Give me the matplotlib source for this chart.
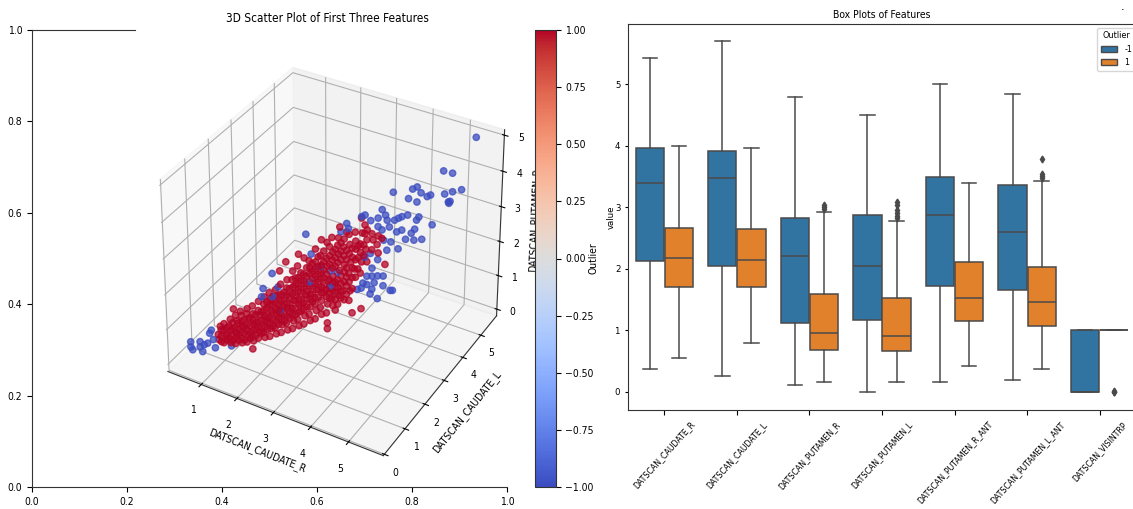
import matplotlib
matplotlib.use("Agg")
import matplotlib.pyplot as plt
import numpy as np
from matplotlib.cm import ScalarMappable
from matplotlib.colors import Normalize
from matplotlib.patches import Patch

plt.rcParams["font.family"] = "DejaVu Sans"
plt.rcParams["font.stretch"] = "condensed"
plt.rcParams["font.size"] = 7.5
plt.rcParams["axes.edgecolor"] = "#333333"

outlier_pts = [
    (5.4, 5.4, 5.05), (4.84, 4.84, 4.25), (5.0, 5.0, 4.15), (5.17, 5.17, 3.65), (5.01, 5.01, 3.63), (4.87, 4.87, 3.6),
    (4.62, 4.62, 3.63), (4.56, 4.56, 3.6), (4.45, 4.45, 3.73), (4.38, 4.38, 3.91), (4.3, 4.3, 3.87), (3.96, 3.96, 3.86),
    (4.23, 4.23, 3.62), (4.38, 4.38, 3.49), (4.94, 4.94, 3.36), (4.97, 4.97, 3.37), (4.95, 4.95, 3.32), (4.66, 4.66, 2.78),
    (4.22, 4.22, 3.16), (4.12, 4.12, 3.14), (4.06, 4.06, 3.11), (3.99, 3.99, 3.07), (4.42, 4.42, 3.06), (4.38, 4.38, 2.98),
    (3.83, 3.83, 3.25), (3.77, 3.77, 3.42), (3.86, 3.86, 3.1), (3.9, 3.9, 2.9), (3.7, 3.7, 3.2), (3.57, 3.57, 3.16),
    (3.41, 3.41, 3.31), (3.47, 3.47, 3.34), (3.7, 3.7, 2.96), (3.77, 3.77, 2.85), (4.03, 4.03, 2.73), (4.12, 4.12, 2.76),
    (4.35, 4.35, 2.73), (4.29, 4.29, 2.63), (4.19, 4.19, 2.48), (4.34, 4.34, 2.42), (4.48, 4.48, 2.41), (4.06, 4.06, 2.24),
    (3.93, 3.93, 2.47), (3.8, 3.8, 2.55), (3.86, 3.86, 2.25), (3.57, 3.57, 2.23), (3.47, 3.47, 2.15), (3.15, 3.15, 3.18),
    (3.18, 3.18, 3.03), (3.05, 3.05, 2.97), (2.44, 2.44, 3.05), (3.7, 3.7, 2.02), (3.6, 3.6, 1.8), (3.7, 3.7, 1.55),
    (3.6, 3.6, 1.57), (3.51, 3.51, 1.59), (3.8, 3.8, 1.52), (3.64, 3.64, 1.37), (3.51, 3.51, 1.35), (3.8, 3.8, 1.24),
    (3.6, 3.6, 1.19), (3.41, 3.41, 1.27), (3.34, 3.34, 1.25), (3.93, 3.93, 1.07), (3.97, 3.97, 1.06), (3.7, 3.7, 0.89),
    (3.57, 3.57, 1.06), (3.44, 3.44, 1.41), (2.53, 2.53, 2.47), (2.86, 2.86, 1.9), (2.99, 2.99, 1.83), (2.5, 2.5, 1.69),
    (2.69, 2.69, 2.08), (1.85, 1.85, 2.09), (1.69, 1.69, 1.7), (1.66, 1.66, 1.47), (1.85, 1.85, 1.43), (1.95, 1.95, 1.68),
    (1.98, 1.98, 1.01), (2.86, 2.86, 1.48), (0.42, 0.42, 0.5), (0.42, 0.42, 0.35), (0.45, 0.45, 0.26), (0.58, 0.58, 0.46),
    (0.65, 0.65, 0.35), (0.62, 0.62, 0.16), (0.71, 0.71, 0.38), (0.81, 0.81, 0.46), (0.84, 0.84, 0.21), (0.75, 0.75, 0.66),
    (0.58, 0.58, 0.31), (1.12, 1.12, 0.19), (0.78, 0.78, 0.74),
]

inlier_pts = [
    (1.49, 1.49, 0.0), (1.17, 1.17, 1.25), (2.09, 2.09, 2.36), (1.98, 1.98, 2.13), (2.31, 2.31, 2.52), (2.71, 2.71, 2.83),
    (3.03, 3.03, 3.11), (3.15, 3.15, 2.94), (3.83, 3.83, 1.85), (3.41, 3.41, 0.67), (3.25, 3.25, 0.59), (2.95, 2.95, 0.75),
    (2.81, 2.81, 0.41), (2.81, 2.81, 0.24), (3.47, 3.47, 2.82), (3.77, 3.77, 2.61), (3.41, 3.41, 3.27), (3.47, 3.47, 3.06),
    (0.9, 0.92, 0.42), (0.91, 0.88, 0.6), (0.93, 0.95, 0.8),
    (1.0, 0.98, 0.33), (1.02, 1.04, 0.5), (0.99, 1.0, 0.68), (1.01, 0.99, 0.88),
    (1.1, 1.12, 0.28), (1.09, 1.08, 0.44), (1.11, 1.13, 0.62), (1.1, 1.07, 0.8), (1.12, 1.1, 0.98),
    (1.2, 1.18, 0.25), (1.19, 1.22, 0.4), (1.21, 1.2, 0.56), (1.2, 1.17, 0.72), (1.22, 1.24, 0.88), (1.2, 1.21, 1.05),
    (1.3, 1.32, 0.22), (1.31, 1.28, 0.38), (1.29, 1.3, 0.54), (1.3, 1.33, 0.7), (1.32, 1.29, 0.86), (1.3, 1.31, 1.02), (1.28, 1.3, 1.14),
    (1.4, 1.38, 0.24), (1.41, 1.42, 0.42), (1.39, 1.4, 0.58), (1.4, 1.37, 0.74), (1.42, 1.43, 0.9), (1.4, 1.39, 1.06), (1.41, 1.4, 1.2),
    (1.5, 1.52, 0.22), (1.49, 1.48, 0.38), (1.51, 1.5, 0.54), (1.5, 1.53, 0.7), (1.52, 1.49, 0.86), (1.5, 1.5, 1.02), (1.49, 1.51, 1.24),
    (1.6, 1.58, 0.3), (1.61, 1.62, 0.46), (1.59, 1.6, 0.62), (1.6, 1.57, 0.78), (1.62, 1.63, 0.94), (1.6, 1.59, 1.1), (1.61, 1.6, 1.36),
    (1.7, 1.72, 0.27), (1.69, 1.68, 0.44), (1.71, 1.7, 0.6), (1.7, 1.73, 0.76), (1.72, 1.69, 0.92), (1.7, 1.7, 1.08), (1.69, 1.71, 1.24), (1.71, 1.7, 1.46),
    (1.8, 1.78, 0.3), (1.81, 1.82, 0.5), (1.79, 1.8, 0.68), (1.8, 1.77, 0.85), (1.82, 1.83, 1.02), (1.8, 1.79, 1.2), (1.81, 1.8, 1.36), (1.79, 1.8, 1.55),
    (1.9, 1.92, 0.32), (1.89, 1.88, 0.52), (1.91, 1.9, 0.7), (1.9, 1.93, 0.88), (1.92, 1.89, 1.06), (1.9, 1.9, 1.24), (1.89, 1.91, 1.42), (1.91, 1.9, 1.62),
    (2.0, 1.98, 0.36), (2.01, 2.02, 0.56), (1.99, 2.0, 0.74), (2.0, 1.97, 0.92), (2.02, 2.03, 1.1), (2.0, 1.99, 1.28), (2.01, 2.0, 1.46), (1.99, 2.0, 1.74),
    (2.1, 2.12, 0.38), (2.09, 2.08, 0.6), (2.11, 2.1, 0.8), (2.1, 2.13, 1.0), (2.12, 2.09, 1.2), (2.1, 2.1, 1.4), (2.09, 2.11, 1.6), (2.11, 2.1, 1.85),
    (2.2, 2.18, 0.42), (2.21, 2.22, 0.62), (2.19, 2.2, 0.82), (2.2, 2.17, 1.02), (2.22, 2.23, 1.22), (2.2, 2.19, 1.42), (2.21, 2.2, 1.62), (2.19, 2.2, 1.82), (2.2, 2.22, 2.06),
    (2.3, 2.32, 0.45), (2.29, 2.28, 0.66), (2.31, 2.3, 0.86), (2.3, 2.33, 1.06), (2.32, 2.29, 1.26), (2.3, 2.3, 1.46), (2.29, 2.31, 1.66), (2.31, 2.3, 1.86), (2.3, 2.28, 2.2),
    (2.4, 2.38, 0.5), (2.41, 2.42, 0.72), (2.39, 2.4, 0.92), (2.4, 2.37, 1.12), (2.42, 2.43, 1.32), (2.4, 2.39, 1.52), (2.41, 2.4, 1.72), (2.39, 2.4, 1.92), (2.4, 2.42, 2.38),
    (2.5, 2.52, 0.55), (2.49, 2.48, 0.76), (2.51, 2.5, 0.96), (2.5, 2.53, 1.16), (2.52, 2.49, 1.36), (2.5, 2.5, 1.56), (2.49, 2.51, 1.9), (2.51, 2.5, 2.1), (2.5, 2.48, 2.3),
    (2.6, 2.58, 0.6), (2.61, 2.62, 0.82), (2.59, 2.6, 1.02), (2.6, 2.57, 1.22), (2.62, 2.63, 1.42), (2.6, 2.59, 1.62), (2.61, 2.6, 1.82), (2.59, 2.6, 2.02), (2.6, 2.62, 2.22), (2.61, 2.6, 2.6),
    (2.7, 2.72, 0.68), (2.69, 2.68, 0.9), (2.71, 2.7, 1.1), (2.7, 2.73, 1.3), (2.72, 2.69, 1.5), (2.7, 2.7, 1.72), (2.69, 2.71, 1.92), (2.71, 2.7, 2.12), (2.7, 2.68, 2.4),
    (2.8, 2.78, 0.72), (2.81, 2.82, 0.96), (2.79, 2.8, 1.18), (2.8, 2.77, 1.4), (2.82, 2.83, 1.62), (2.8, 2.79, 1.84), (2.81, 2.8, 2.06), (2.79, 2.8, 2.28), (2.8, 2.82, 2.72),
    (2.9, 2.92, 0.88), (2.89, 2.88, 1.1), (2.91, 2.9, 1.32), (2.9, 2.93, 1.54), (2.92, 2.89, 1.76), (2.9, 2.9, 1.98), (2.89, 2.91, 2.2), (2.91, 2.9, 2.44), (2.9, 2.88, 2.86),
    (3.0, 2.98, 0.92), (3.01, 3.02, 1.16), (2.99, 3.0, 1.4), (3.0, 2.97, 1.64), (3.02, 3.03, 1.88), (3.0, 2.99, 2.12), (3.01, 3.0, 2.36), (2.99, 3.0, 2.6), (3.0, 3.02, 2.8),
    (3.1, 3.12, 1.0), (3.09, 3.08, 1.28), (3.11, 3.1, 1.54), (3.1, 3.13, 1.8), (3.12, 3.09, 2.04), (3.1, 3.1, 2.28), (3.09, 3.11, 2.52), (3.11, 3.1, 2.76),
    (3.2, 3.18, 0.98), (3.21, 3.22, 1.24), (3.19, 3.2, 1.5), (3.2, 3.17, 1.76), (3.22, 3.23, 2.06), (3.2, 3.19, 2.32), (3.21, 3.2, 2.58), (3.19, 3.2, 2.86),
    (3.3, 3.32, 1.6), (3.29, 3.28, 1.86), (3.31, 3.3, 2.12), (3.3, 3.33, 2.4), (3.32, 3.29, 2.66), (3.3, 3.3, 2.9),
    (3.4, 3.38, 1.72), (3.41, 3.42, 2.02), (3.39, 3.4, 2.3), (3.4, 3.37, 2.56), (3.42, 3.43, 2.84),
    (3.5, 3.52, 2.0), (3.49, 3.48, 2.38), (3.51, 3.5, 2.64), (3.5, 3.53, 2.9),
    (3.6, 3.58, 2.34), (3.61, 3.62, 2.6), (3.59, 3.6, 2.78),
    (3.7, 3.72, 2.2), (3.69, 3.68, 2.46), (3.71, 3.7, 2.7),
]

# the dense ridge of the red cloud
ridge_pts = [
    (0.95, 0.95, 0.36), (0.95, 0.95, 0.52), (0.95, 0.95, 0.7), (1.05, 1.05, 0.38), (1.05, 1.05, 0.55), (1.05, 1.05, 0.74),
    (1.15, 1.15, 0.34), (1.15, 1.15, 0.5), (1.15, 1.15, 0.68), (1.15, 1.15, 0.86), (1.25, 1.25, 0.32), (1.25, 1.25, 0.48), (1.25, 1.25, 0.64), (1.25, 1.25, 0.82),
    (1.35, 1.35, 0.3), (1.35, 1.35, 0.5), (1.35, 1.35, 0.68), (1.35, 1.35, 0.88), (1.45, 1.45, 0.32), (1.45, 1.45, 0.5), (1.45, 1.45, 0.7), (1.45, 1.45, 0.92),
    (1.55, 1.55, 0.38), (1.55, 1.55, 0.56), (1.55, 1.55, 0.76), (1.55, 1.55, 0.98), (1.65, 1.65, 0.42), (1.65, 1.65, 0.6), (1.65, 1.65, 0.8), (1.65, 1.65, 1.04),
    (1.75, 1.75, 0.5), (1.75, 1.75, 0.7), (1.75, 1.75, 0.9), (1.75, 1.75, 1.12), (1.75, 1.75, 1.3), (1.85, 1.85, 0.56), (1.85, 1.85, 0.76), (1.85, 1.85, 0.96), (1.85, 1.85, 1.18), (1.85, 1.85, 1.36),
    (1.95, 1.95, 0.6), (1.95, 1.95, 0.8), (1.95, 1.95, 1.0), (1.95, 1.95, 1.2), (1.95, 1.95, 1.42), (2.05, 2.05, 0.66), (2.05, 2.05, 0.86), (2.05, 2.05, 1.06), (2.05, 2.05, 1.28), (2.05, 2.05, 1.5),
    (2.15, 2.15, 0.72), (2.15, 2.15, 0.92), (2.15, 2.15, 1.14), (2.15, 2.15, 1.36), (2.15, 2.15, 1.58), (2.25, 2.25, 0.8), (2.25, 2.25, 1.0), (2.25, 2.25, 1.22), (2.25, 2.25, 1.44), (2.25, 2.25, 1.66),
    (2.35, 2.35, 0.88), (2.35, 2.35, 1.1), (2.35, 2.35, 1.32), (2.35, 2.35, 1.54), (2.35, 2.35, 1.76), (2.45, 2.45, 0.98), (2.45, 2.45, 1.2), (2.45, 2.45, 1.42), (2.45, 2.45, 1.64), (2.45, 2.45, 1.86),
    (2.55, 2.55, 1.1), (2.55, 2.55, 1.32), (2.55, 2.55, 1.54), (2.55, 2.55, 1.76), (2.55, 2.55, 1.98), (2.65, 2.65, 1.2), (2.65, 2.65, 1.42), (2.65, 2.65, 1.64), (2.65, 2.65, 1.86), (2.65, 2.65, 2.08),
    (2.75, 2.75, 1.3), (2.75, 2.75, 1.52), (2.75, 2.75, 1.74), (2.75, 2.75, 1.96), (2.75, 2.75, 2.2), (2.85, 2.85, 1.42), (2.85, 2.85, 1.66), (2.85, 2.85, 2.1), (2.85, 2.85, 2.34),
    (2.95, 2.95, 1.56), (2.95, 2.95, 2.02), (2.95, 2.95, 2.26), (2.95, 2.95, 2.5), (3.05, 3.05, 1.72), (3.05, 3.05, 2.18), (3.05, 3.05, 2.42), (3.05, 3.05, 2.66),
    (2.85, 2.85, 1.12), (2.85, 2.85, 1.3), (2.95, 2.95, 1.05), (2.95, 2.95, 1.24), (2.95, 2.95, 1.42), (3.05, 3.05, 1.08), (3.05, 3.05, 1.28), (3.05, 3.05, 1.5),
    (3.15, 3.15, 1.16), (3.15, 3.15, 1.4), (3.15, 3.15, 1.66), (3.15, 3.15, 1.92), (3.15, 3.15, 2.16), (3.15, 3.15, 2.42), (3.25, 3.25, 1.3), (3.25, 3.25, 1.62),
    (3.25, 3.25, 1.9), (3.25, 3.25, 2.2), (3.25, 3.25, 2.46), (3.35, 3.35, 1.84), (3.35, 3.35, 2.16), (3.35, 3.35, 2.5), (3.45, 3.45, 2.2), (3.45, 3.45, 2.5),
    (2.25, 2.25, 1.86), (2.35, 2.35, 1.98), (2.45, 2.45, 2.1), (2.55, 2.55, 2.2), (2.65, 2.65, 2.36), (2.75, 2.75, 2.5), (2.85, 2.85, 2.6),
]

box_features = [
    "DATSCAN_CAUDATE_R", "DATSCAN_CAUDATE_L", "DATSCAN_PUTAMEN_R", "DATSCAN_PUTAMEN_L",
    "DATSCAN_PUTAMEN_R_ANT", "DATSCAN_PUTAMEN_L_ANT", "DATSCAN_VISINTRP",
]
# whisker low, q1, median, q3, whisker high
neg_stats = [
    (0.37, 2.12, 3.40, 3.97, 5.42), (0.26, 2.04, 3.48, 3.92, 5.70), (0.11, 1.11, 2.20, 2.83, 4.80),
    (0.00, 1.16, 2.05, 2.87, 4.50), (0.16, 1.71, 2.87, 3.49, 5.00), (0.18, 1.66, 2.60, 3.36, 4.84),
    (0.00, 0.00, 0.00, 1.00, 1.00),
]
pos_stats = [
    (0.54, 1.70, 2.18, 2.66, 4.00), (0.79, 1.70, 2.14, 2.64, 3.97), (0.16, 0.68, 0.96, 1.58, 2.92),
    (0.16, 0.66, 0.91, 1.52, 2.78), (0.42, 1.14, 1.52, 2.11, 3.40), (0.37, 1.07, 1.45, 2.02, 3.42),
    (1.00, 1.00, 1.00, 1.00, 1.00),
]
pos_fliers = [
    [], [], [2.97, 3.0, 3.03], [2.82, 2.86, 2.9, 2.95, 3.03, 3.08], [], [3.47, 3.5, 3.54, 3.78], [0.0, 0.01, -0.01],
]

W, H = 1133, 509


def px_rect(x0, y0, x1, y1):
    return [x0 / W, 1 - y1 / H, (x1 - x0) / W, (y1 - y0) / H]


fig = plt.figure(figsize=(W / 100, H / 100), dpi=100)

# empty axes left behind the 3d one
bg = fig.add_axes(px_rect(32, 30, 507, 487))
bg.spines["right"].set_visible(False)
bg.spines["top"].set_bounds(0, 0.217)

ax3d = fig.add_axes(px_rect(160, 55, 502, 458), projection="3d")
ax3d.patch.set_alpha(0)
ax3d.set_box_aspect((4, 4, 3), zoom=1.12)
# the reference is stretched, keep the axes rectangle instead of forcing a square
ax3d.apply_aspect = lambda position=None: None
in_arr = np.array(inlier_pts + ridge_pts)
out_arr = np.array(outlier_pts)
xs = np.concatenate([out_arr[:, 0], in_arr[:, 0]])
ys = np.concatenate([out_arr[:, 1], in_arr[:, 1]])
zs = np.concatenate([out_arr[:, 2], in_arr[:, 2]])
labels = np.concatenate([-np.ones(len(out_arr)), np.ones(len(in_arr))])
norm = Normalize(-1, 1)
ax3d.scatter(xs, ys, zs, c=labels, cmap="coolwarm", norm=norm, s=21, alpha=0.75)
ax3d.set_xlim(0.05, 5.9)
ax3d.set_ylim(-0.05, 5.9)
ax3d.set_zlim(-0.2, 5.15)
ax3d.set_xticks([1, 2, 3, 4, 5])
ax3d.set_yticks([0, 1, 2, 3, 4, 5])
ax3d.set_zticks([0, 1, 2, 3, 4, 5])
ax3d.tick_params(axis="x", pad=1)
ax3d.tick_params(axis="y", pad=-1)
ax3d.tick_params(axis="z", pad=-1)
ax3d.set_xlabel("DATSCAN_CAUDATE_R", labelpad=-5)
ax3d.set_ylabel("DATSCAN_CAUDATE_L", labelpad=-5)
ax3d.set_zlabel("DATSCAN_PUTAMEN_R", labelpad=-6)
fig.text(327 / W, 1 - 19 / H, "3D Scatter Plot of First Three Features", ha="center", va="center", fontsize=8.5)

cax = fig.add_axes(px_rect(535, 30, 555.5, 487))
cax.set_zorder(5)
cbar = fig.colorbar(ScalarMappable(norm=norm, cmap="coolwarm"), cax=cax)
cbar.set_ticks(np.arange(-1, 1.01, 0.25))
cbar.set_label("Outlier")
cax.yaxis.set_label_coords(2.63, 0.5)

# box plots, drawn from the stats above
box_ax = fig.add_axes(px_rect(628, 24, 1136, 410))
line_col = "#4a4a4a"
for color, stats, offset in (("#3274a1", neg_stats, -0.2), ("#e1812c", pos_stats, 0.2)):
    bxp_stats = []
    for i, (lo, q1, med, q3, hi) in enumerate(stats):
        fl = pos_fliers[i] if offset > 0 else []
        bxp_stats.append({"whislo": lo, "q1": q1, "med": med, "q3": q3, "whishi": hi, "fliers": fl})
    box_ax.bxp(
        bxp_stats,
        positions=np.arange(len(stats)) + offset,
        widths=0.39,
        patch_artist=True,
        boxprops={"facecolor": color, "edgecolor": line_col, "linewidth": 1.1},
        medianprops={"color": line_col, "linewidth": 1.1},
        whiskerprops={"color": line_col, "linewidth": 1.1},
        capprops={"color": line_col, "linewidth": 1.1},
        flierprops={"marker": "d", "markersize": 3.5, "markerfacecolor": line_col, "markeredgecolor": line_col},
        capwidths=0.2,
    )
box_ax.set_xlim(-0.5, 6.5)
box_ax.set_ylim(-0.3, 5.98)
box_ax.set_xticks(np.arange(len(box_features)))
box_ax.set_xticklabels(box_features, rotation=48, ha="center", fontsize=6.3)
box_ax.tick_params(axis="y", labelsize=6.8, length=2)
box_ax.set_ylabel("value", fontsize=6.8, labelpad=-1)
box_ax.set_title("Box Plots of Features", fontsize=7.5, pad=4)
box_ax.legend(
    handles=[Patch(facecolor="#3274a1", edgecolor=line_col, label="-1"), Patch(facecolor="#e1812c", edgecolor=line_col, label="1")],
    title="Outlier",
    loc="upper right",
    bbox_to_anchor=(1.0, 0.99),
    borderaxespad=0,
    fontsize=6.5,
    title_fontsize=6.5,
    handlelength=1.8,
)
fig.text(1123 / W, 1 - 6 / H, ".", ha="center", va="center", fontsize=9)

fig.savefig("out.png", dpi=100)
